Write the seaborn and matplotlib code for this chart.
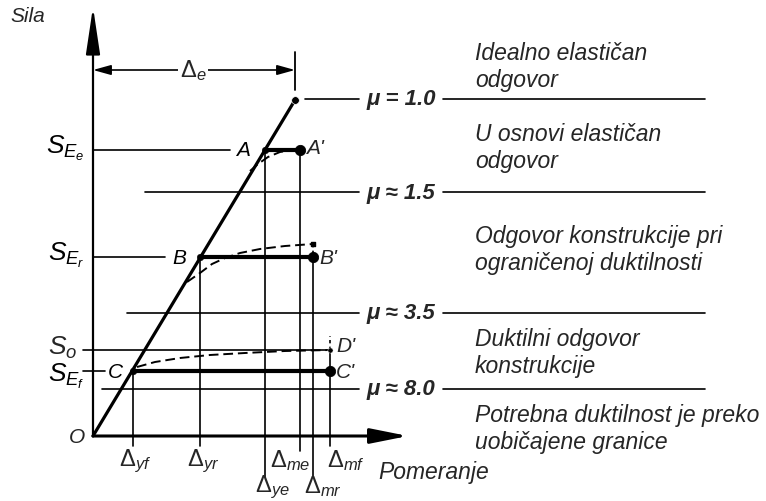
import numpy as np
import pandas as pd
import seaborn as sns
import matplotlib.pyplot as plt

# ---- values (displacement units horizontally, force units vertically) ----
delta_e = 20.2          # elastic displacement
s_elastic = 33.6        # elastic force level

point_names = ["A", "B", "C"]
force_levels = [28.6, 17.9, 6.5]      # S_Ee, S_Er, S_Ef
yield_disp = [17.2, 10.7, 4.0]        # Δye, Δyr, Δyf
max_disp = [20.7, 22.0, 23.7]         # Δme, Δmr, Δmf
force_labels = [r"$S_{E_e}$", r"$S_{E_r}$", r"$S_{E_f}$"]
s_o = 8.6

mu_labels = ["μ = 1.0", "μ ≈ 1.5", "μ ≈ 3.5", "μ ≈ 8.0"]
mu_levels = [33.7, 24.4, 12.3, 4.7]
mu_line_start = [21.2, 5.2, 3.4, 0.9]

zone_texts = [
    "Idealno elastičan\nodgovor",
    "U osnovi elastičan\nodgovor",
    "Odgovor konstrukcije pri\nograničenoj duktilnosti",
    "Duktilni odgovor\nkonstrukcije",
    "Potrebna duktilnost je preko\nuobičajene granice",
]
zone_centers = [37.0, 28.9, 18.7, 8.4, 0.8]

# dashed real response curves
curve_a_x = [15.7, 16.5, 17.5, 18.7, 20.7]
curve_a_y = [26.5, 27.2, 27.9, 28.4, 28.7]
curve_b_x = [9.4, 10.7, 11.9, 13.2, 14.7, 16.7, 19.2, 22.0]
curve_b_y = [15.4, 16.3, 17.2, 17.8, 18.3, 18.7, 19.0, 19.2]
curve_c_x = [4.4, 6.2, 8.7, 11.7, 15.2, 19.2, 23.7]
curve_c_y = [6.9, 7.4, 7.8, 8.1, 8.3, 8.5, 8.6]

# displacement marker lines: label, position, top, bottom, label row
disp_labels = [r"$\Delta_{yf}$", r"$\Delta_{yr}$", r"$\Delta_{ye}$",
               r"$\Delta_{me}$", r"$\Delta_{mr}$", r"$\Delta_{mf}$"]
disp_pos = [4.0, 10.7, 17.2, 20.7, 22.0, 23.7]
disp_top = [6.5, 17.9, 28.6, 28.6, 17.9, 8.6]
disp_bottom = [-1.0, -1.0, -4.1, -1.5, -4.0, -1.0]
disp_label_x = [4.2, 11.0, 17.9, 19.7, 23.0, 25.3]
disp_label_y = [-2.4, -2.4, -5.0, -2.4, -5.0, -2.4]

# ---- style ----
sns.set_theme(style="white")
plt.rcParams["font.family"] = ["Liberation Sans", "DejaVu Sans"]
plt.rcParams["mathtext.fontset"] = "custom"
plt.rcParams["mathtext.rm"] = "Liberation Sans"
plt.rcParams["mathtext.it"] = "Liberation Sans:italic"
plt.rcParams["mathtext.bf"] = "Liberation Sans:bold"

fig = plt.figure(figsize=(7.66, 5.02), dpi=100)
ax = fig.add_axes([0, 0, 1, 1])
ax.set_xlim(-9.3, 67.3)
ax.set_ylim(-6.5, 43.7)
ax.axis("off")

K = "black"

# axes with arrows
ax.annotate("", xy=(0, 42.9), xytext=(0, 0),
            arrowprops=dict(arrowstyle="-|>,head_length=2.4,head_width=0.36",
                            lw=1.6, color=K, shrinkA=0, shrinkB=0))
ax.annotate("", xy=(31.5, 0), xytext=(0, 0),
            arrowprops=dict(arrowstyle="-|>,head_length=1.9,head_width=0.38",
                            lw=2.2, color=K, shrinkA=0, shrinkB=0))

# elastic line
sns.lineplot(x=[0, delta_e], y=[0, s_elastic], ax=ax, color=K, lw=2.3)
sns.scatterplot(x=[delta_e], y=[s_elastic], ax=ax, color=K, s=30, zorder=5)

# Δe dimension
ax.plot([delta_e, delta_e], [34.6, 38.4], color=K, lw=1.3)
ax.annotate("", xy=(0, 36.6), xytext=(delta_e, 36.6),
            arrowprops=dict(arrowstyle="<|-|>,head_length=0.9,head_width=0.25",
                            lw=1.2, color=K, shrinkA=0, shrinkB=0))
ax.text(10.0, 36.6, r"$\Delta_e$", fontsize=17, ha="center", va="center",
        bbox=dict(facecolor="white", edgecolor="none", pad=1.5))

# force level lines and labels
label_ends = [13.7, 7.2, 1.2]
label_starts = [0, 0, -1.0]
letter_x = [15.0, 8.6, 2.2]
label_y_shift = [0.3, 0.3, -0.4]
for name, lvl, lab, x0, x1, lx, dy in zip(point_names, force_levels,
                                          force_labels, label_starts,
                                          label_ends, letter_x, label_y_shift):
    ax.plot([x0, x1], [lvl, lvl], color=K, lw=1.2)
    ax.text(lx, lvl, name, fontsize=15, style="italic", ha="center",
            va="center", color=K)
    ax.text(-0.8, lvl + dy, lab, fontsize=19, ha="right", va="center",
            color=K)
ax.plot([-1.0, max_disp[2]], [s_o, s_o], color=K, lw=1.2)
ax.text(-1.6, s_o + 0.3, r"$S_o$", fontsize=19, ha="right", va="center")

# plateaus (idealised bilinear response)
for y, x0, x1 in zip(force_levels, yield_disp, max_disp):
    sns.lineplot(x=[x0, x1], y=[y, y], ax=ax, color=K, lw=3.0)
sns.scatterplot(x=max_disp, y=force_levels, ax=ax, color=K, s=55, zorder=5,
                edgecolor=K)
sns.scatterplot(x=yield_disp, y=force_levels, ax=ax, color=K, s=22, zorder=5,
                edgecolor=K)
sns.scatterplot(x=[max_disp[2]], y=[s_o], ax=ax, color=K, s=14, zorder=5)

# dashed response curves
for cx, cy in [(curve_a_x, curve_a_y), (curve_b_x, curve_b_y),
               (curve_c_x, curve_c_y)]:
    sns.lineplot(x=cx, y=cy, ax=ax, color=K, lw=1.4, sort=False,
                 linestyle=(0, (5, 2.5)))
ax.plot([curve_b_x[-1]] * 2, [curve_b_y[-1], force_levels[1]], color=K,
        lw=1.2, linestyle=(0, (2, 2)))
ax.plot([max_disp[2]] * 2, [s_o, 10.0], color=K, lw=1.2,
        linestyle=(0, (2, 2)))
ax.scatter([curve_b_x[-1]], [curve_b_y[-1]], marker="s", s=10, color=K)

# point letters at the end of plateaus
ax.text(21.3, 28.8, "A'", fontsize=15, style="italic", ha="left", va="center")
ax.text(22.6, 17.9, "B'", fontsize=15, style="italic", ha="left", va="center")
ax.text(24.3, 6.5, "C'", fontsize=15, style="italic", ha="left", va="center")
ax.text(24.3, 9.1, "D'", fontsize=15, style="italic", ha="left", va="center")
ax.text(-1.6, -0.1, "O", fontsize=15, style="italic", ha="center", va="center")

# displacement marker lines
for lab, x, top, bot, lx, ly in zip(disp_labels, disp_pos, disp_top,
                                    disp_bottom, disp_label_x, disp_label_y):
    ax.plot([x, x], [bot, top], color=K, lw=1.2, zorder=1)
    ax.text(lx, ly, lab, fontsize=17, ha="center", va="center")

# ductility zone borders
for lab, lvl, x0 in zip(mu_labels, mu_levels, mu_line_start):
    ax.plot([x0, 26.6], [lvl, lvl], color=K, lw=1.2)
    ax.plot([35.0, 61.2], [lvl, lvl], color=K, lw=1.2)
    ax.text(30.8, lvl, lab, fontsize=16, fontweight="bold", style="italic",
            ha="center", va="center")

for txt, yc in zip(zone_texts, zone_centers):
    ax.text(38.2, yc, txt, fontsize=16.5, style="italic", ha="left",
            va="center", linespacing=1.25)

ax.text(-8.3, 42.0, "Sila", fontsize=15, style="italic", ha="left",
        va="center")
ax.text(28.5, -3.6, "Pomeranje", fontsize=16.5, style="italic", ha="left",
        va="center")

fig.savefig("out.png", dpi=100, facecolor="white")
